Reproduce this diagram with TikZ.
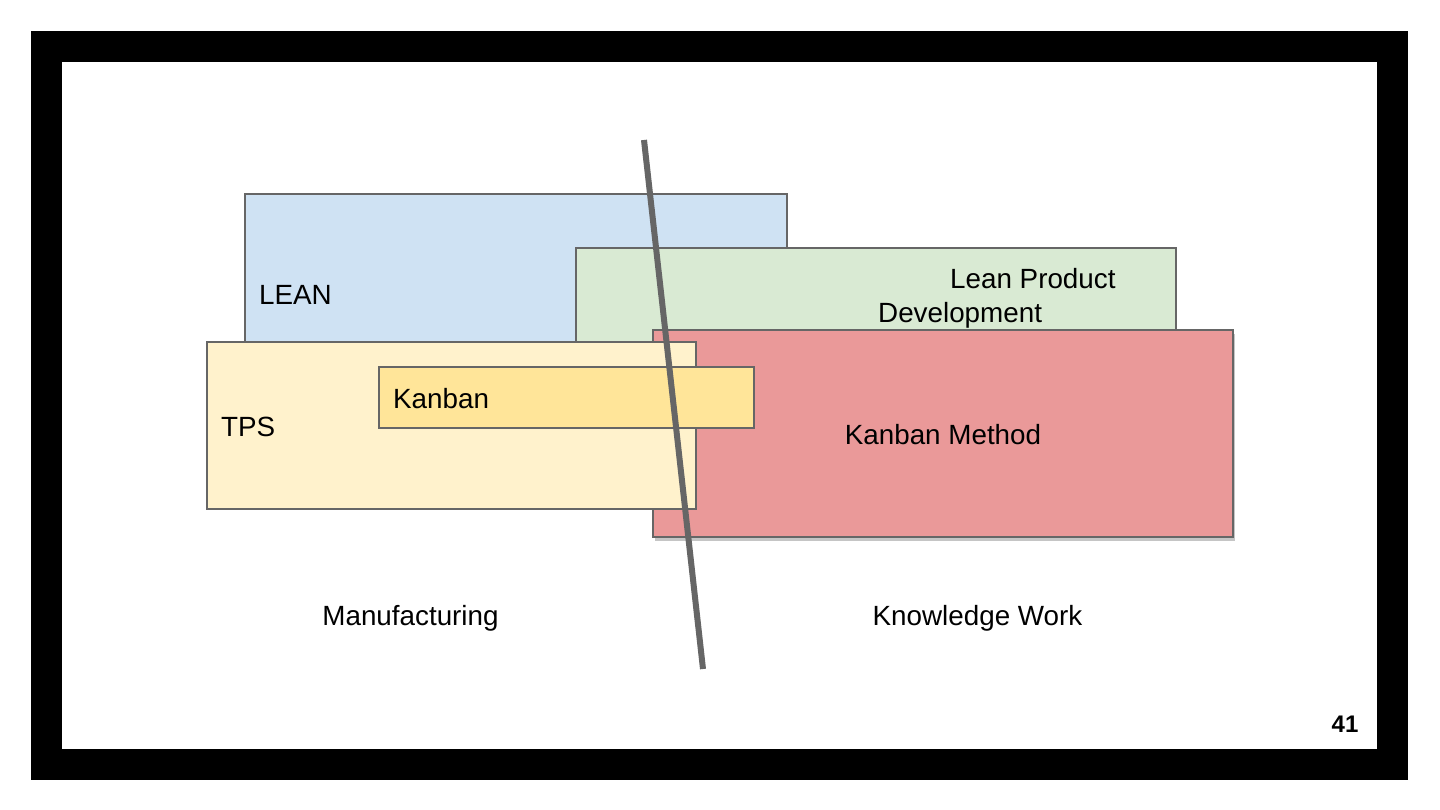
\documentclass[tikz,border=0pt]{standalone}
\usepackage{fontspec}
\setmainfont{Liberation Sans}
\usetikzlibrary{shadows}
\definecolor{leanblue}{HTML}{CFE2F3}
\definecolor{lpdgreen}{HTML}{D9EAD3}
\definecolor{methodred}{HTML}{EA9999}
\definecolor{tpsyellow}{HTML}{FFF2CC}
\definecolor{kanbanyellow}{HTML}{FFE599}
\definecolor{edgegray}{HTML}{666666}
\begin{document}
\begin{tikzpicture}[x=1pt,y=-1pt,
    box/.style={rectangle,draw=edgegray,line width=1.3pt,inner sep=0pt,outer sep=0pt},
    lbl/.style={inner sep=0pt,font=\fontsize{27.8}{33}\selectfont}]
        \useasboundingbox (0,0) rectangle (1440,810);
        \fill[white] (0,0) rectangle (1440,810);
        \fill[black] (31,31) rectangle (1408,780);
        \fill[white] (62,62) rectangle (1377,749);
        \begin{scope}
            \begin{scope}[every node/.style={box}]
              \node[fill=leanblue,minimum width=542pt,minimum height=206pt] (lean) at (516,297) {};
              \node[fill=lpdgreen,minimum width=600pt,minimum height=152pt] (lpd) at (876,324) {};
              \node[fill=methodred,minimum width=580pt,minimum height=207pt,
                    drop shadow={opacity=0.45,shadow xshift=1.5pt,shadow yshift=-3.5pt}] (method) at (943,433.5) {};
              \node[fill=tpsyellow,minimum width=489pt,minimum height=167pt] (tps) at (451.5,425.5) {};
              \node[fill=kanbanyellow,minimum width=375pt,minimum height=61pt] (kanban) at (566.5,397.5) {};
            \end{scope}
            \begin{scope}[every node/.style={lbl}]
              \node[anchor=base west] (leantext) at (259,305) {LEAN};
              \node[anchor=base west] (lpdtext) at (950,289) {Lean Product};
              \node[anchor=base west] (lpdtexttwo) at (878,322) {Development};
              \node[anchor=base west] (tpstext) at (221,436) {TPS};
              \node[anchor=base west] (kanbantext) at (393,408) {Kanban};
              \node[anchor=base] (methodtext) at (943,444) {Kanban Method};
              \node[anchor=base] (manutext) at (410.5,625) {Manufacturing};
              \node[anchor=base] (knowtext) at (977.5,625) {Knowledge Work};
              \node[anchor=base,font=\fontsize{24}{28}\selectfont\bfseries] (pagenum) at (1345,732) {41};
            \end{scope}
        \end{scope}
        \coordinate (divtop) at (644,140);
        \coordinate (divbot) at (703,669);
        \draw[edgegray,line width=6pt] (divtop) -- (divbot);
    \end{tikzpicture}
\end{document}
